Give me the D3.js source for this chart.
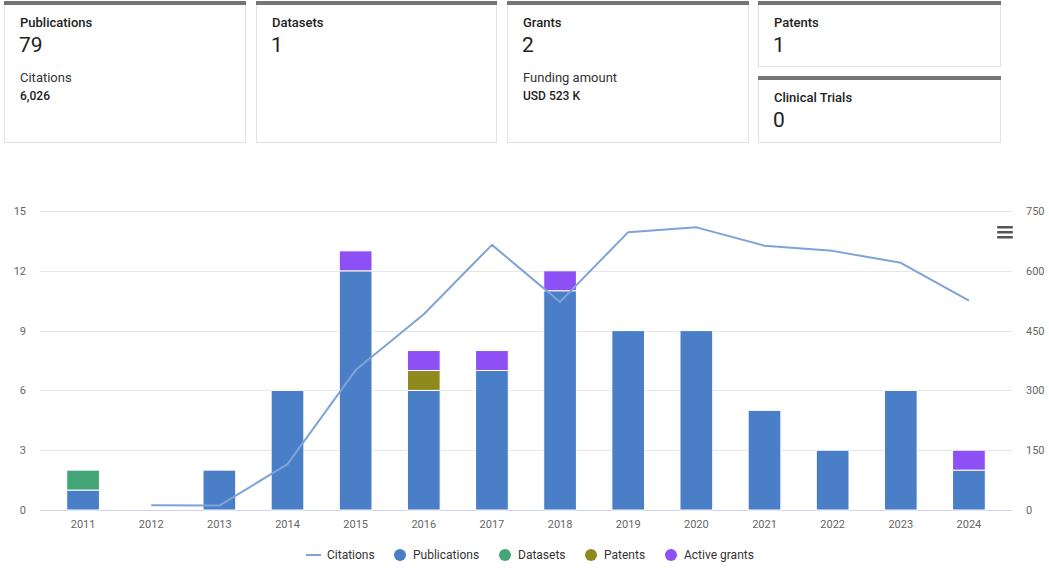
<!DOCTYPE html>
<html>
<head>
<meta charset="utf-8">
<script src="https://cdn.jsdelivr.net/npm/d3@7"></script>
<style>
  body { margin: 0; background: #fff; font-family: Roboto, "Noto Sans", sans-serif; }
  svg { display: block; }
</style>
</head>
<body>
<svg id="chart" width="1049" height="578"></svg>
<script>
// summary cards
const cardTitles = ["Publications", "Datasets", "Grants", "Patents", "Clinical Trials"];
const cardValues = ["79", "1", "2", "1", "0"];
const cardSubTitles = ["Citations", "", "Funding amount", "", ""];
const cardSubValues = ["6,026", "", "USD 523 K", "", ""];

// chart data
const years = ["2011", "2012", "2013", "2014", "2015", "2016", "2017", "2018", "2019", "2020", "2021", "2022", "2023", "2024"];
const publications = [1, 0, 2, 6, 12, 6, 7, 11, 9, 9, 5, 3, 6, 2];
const datasets = [1, 0, 0, 0, 0, 0, 0, 0, 0, 0, 0, 0, 0, 0];
const patents = [0, 0, 0, 0, 0, 1, 0, 0, 0, 0, 0, 0, 0, 0];
const activeGrants = [0, 0, 0, 0, 1, 1, 1, 1, 0, 0, 0, 0, 0, 1];
const citations = [null, 12, 11, 115, 351, 491, 665, 522, 697, 709, 663, 650, 620, 525];
const leftTicks = [0, 3, 6, 9, 12, 15];
const rightTicks = [0, 150, 300, 450, 600, 750];

const svg = d3.select("#chart");

// ---- cards ----
const cardBoxes = [
  { x: 4, y: 1, w: 241, h: 141 },
  { x: 256, y: 1, w: 240, h: 141 },
  { x: 507, y: 1, w: 241, h: 141 },
  { x: 758, y: 1, w: 242, h: 65 },
  { x: 758, y: 76, w: 242, h: 66 }
];

const cards = svg.selectAll("g.card")
  .data(cardTitles)
  .enter()
  .append("g")
  .attr("class", "card")
  .attr("transform", (d, i) => `translate(${cardBoxes[i].x},${cardBoxes[i].y})`);

cards.append("rect")
  .attr("x", 0.5).attr("y", 0.5)
  .attr("width", (d, i) => cardBoxes[i].w)
  .attr("height", (d, i) => cardBoxes[i].h)
  .attr("fill", "#fff")
  .attr("stroke", "#e2e2e2");

cards.append("rect")
  .attr("x", 0).attr("y", 0)
  .attr("width", (d, i) => cardBoxes[i].w + 1)
  .attr("height", 4)
  .attr("fill", "#757575");

cards.append("text")
  .attr("x", 16).attr("y", 26)
  .attr("font-size", 13).attr("font-weight", 500)
  .attr("fill", "#222")
  .text(d => d);

cards.append("text")
  .attr("x", 15).attr("y", 51)
  .attr("font-size", 21)
  .attr("fill", "#222")
  .text((d, i) => cardValues[i]);

cards.append("text")
  .attr("x", 16).attr("y", 81)
  .attr("font-size", 13)
  .attr("fill", "#333")
  .text((d, i) => cardSubTitles[i]);

cards.append("text")
  .attr("x", 16).attr("y", 99)
  .attr("font-size", 12).attr("font-weight", 500)
  .attr("fill", "#222")
  .text((d, i) => cardSubValues[i]);

// ---- chart ----
const plotLeft = 40, plotRight = 1012, plotTop = 211, plotBottom = 510;

const x = d3.scaleBand()
  .domain(years)
  .range([49, 1003])
  .paddingInner(0.52)
  .paddingOuter(0.26);

const y = d3.scaleLinear().domain([0, 15]).range([plotBottom, plotTop]);
const y2 = d3.scaleLinear().domain([0, 750]).range([plotBottom, plotTop]);

// grid
svg.append("g")
  .selectAll("line")
  .data(leftTicks)
  .enter()
  .append("line")
  .attr("x1", plotLeft).attr("x2", plotRight)
  .attr("y1", d => Math.round(y(d)) + 0.5)
  .attr("y2", d => Math.round(y(d)) + 0.5)
  .attr("stroke", d => d === 0 ? "#ccd6eb" : "#e6e6e6");

// left axis labels
svg.append("g")
  .selectAll("text")
  .data(leftTicks)
  .enter()
  .append("text")
  .attr("x", 26)
  .attr("y", d => y(d) + 4)
  .attr("text-anchor", "end")
  .attr("font-size", 11)
  .attr("fill", "#666")
  .text(d => d);

// right axis labels
svg.append("g")
  .selectAll("text")
  .data(rightTicks)
  .enter()
  .append("text")
  .attr("x", 1026)
  .attr("y", d => y2(d) + 4)
  .attr("text-anchor", "start")
  .attr("font-size", 11)
  .attr("fill", "#666")
  .text(d => d);

// x labels
svg.append("g")
  .selectAll("text")
  .data(years)
  .enter()
  .append("text")
  .attr("x", d => x(d) + x.bandwidth() / 2)
  .attr("y", 528)
  .attr("text-anchor", "middle")
  .attr("font-size", 11)
  .attr("fill", "#666")
  .text(d => d);

// stacked bars
const seriesNames = ["Publications", "Datasets", "Patents", "Active grants"];
const seriesColors = ["#4a7fc8", "#44a676", "#8e8a1d", "#8c50f5"];
const table = years.map((yr, i) => ({
  year: yr,
  "Publications": publications[i],
  "Datasets": datasets[i],
  "Patents": patents[i],
  "Active grants": activeGrants[i]
}));
const stacked = d3.stack().keys(seriesNames)(table);

svg.append("g")
  .selectAll("g")
  .data(stacked)
  .enter()
  .append("g")
  .attr("fill", (d, i) => seriesColors[i])
  .selectAll("rect")
  .data(d => d.filter(p => p[1] > p[0]))
  .enter()
  .append("rect")
  .attr("x", d => x(d.data.year))
  .attr("y", d => y(d[1]))
  .attr("width", x.bandwidth())
  .attr("height", d => y(d[0]) - y(d[1]))
  .attr("stroke", "#fff")
  .attr("stroke-width", 1);

// citations line
const line = d3.line()
  .defined(d => d != null)
  .x((d, i) => x(years[i]) + x.bandwidth() / 2)
  .y(d => y2(d));

svg.append("path")
  .datum(citations)
  .attr("d", line)
  .attr("fill", "none")
  .attr("stroke", "#7fa3d6")
  .attr("stroke-width", 2)
  .attr("stroke-linejoin", "round");

// menu icon
svg.append("g")
  .selectAll("rect")
  .data([0, 1, 2])
  .enter()
  .append("rect")
  .attr("x", 997).attr("y", d => 226 + d * 5)
  .attr("width", 16).attr("height", 2.5)
  .attr("rx", 1)
  .attr("fill", "#555");

// legend
const legendItems = [
  { name: "Citations", color: "#7fa3d6", type: "line", x: 306 },
  { name: "Publications", color: seriesColors[0], type: "dot", x: 394 },
  { name: "Datasets", color: seriesColors[1], type: "dot", x: 499 },
  { name: "Patents", color: seriesColors[2], type: "dot", x: 585 },
  { name: "Active grants", color: seriesColors[3], type: "dot", x: 665 }
];
const legend = svg.append("g")
  .selectAll("g")
  .data(legendItems)
  .enter()
  .append("g")
  .attr("transform", d => `translate(${d.x},555)`);

legend.filter(d => d.type === "line")
  .append("line")
  .attr("x1", 0).attr("x2", 15)
  .attr("stroke", d => d.color)
  .attr("stroke-width", 2);

legend.filter(d => d.type === "dot")
  .append("circle")
  .attr("cx", 6).attr("r", 6)
  .attr("fill", d => d.color);

legend.append("text")
  .attr("x", d => d.type === "line" ? 21 : 19)
  .attr("y", 4)
  .attr("font-size", 12)
  .attr("fill", "#333")
  .text(d => d.name);
</script>
</body>
</html>
